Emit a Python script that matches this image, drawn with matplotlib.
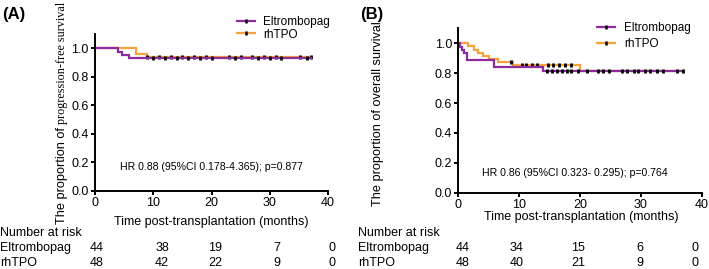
import matplotlib
matplotlib.use("Agg")
import matplotlib.pyplot as plt
from matplotlib.lines import Line2D
import numpy as np

plt.rcParams['font.family'] = ['Liberation Sans', 'DejaVu Sans']

W, H = 709, 269
PURPLE = '#8d2b9d'
ORANGE = '#f5a33a'
FS = 9

# ---- panel A: progression-free survival ----
a_elt_t = [0, 4.0, 4.7, 5.8]
a_elt_s = [1.0, 0.977, 0.955, 0.932]
a_elt_end = 37.0
a_elt_cens = [10, 12, 14, 16, 18, 20, 24, 28, 30, 32, 36.4]

a_rh_t = [0, 7.0, 9.0]
a_rh_s = [1.0, 0.958, 0.9375]
a_rh_end = 37.0
a_rh_cens = [9, 11, 13, 15, 17, 19, 23, 25, 27, 29, 31, 35.2, 37]

# ---- panel B: overall survival ----
b_elt_t = [0, 0.3, 0.6, 1.0, 1.5, 5.8, 13.9]
b_elt_s = [1.0, 0.977, 0.955, 0.932, 0.886, 0.841, 0.818]
b_elt_end = 37.0
b_elt_cens = [14.5, 15.4, 16.2, 17.0, 17.8, 18.6, 19.7, 21.1, 23.0, 23.8,
              24.7, 26.9, 27.7, 28.8, 29.6, 30.7, 31.5, 32.6, 33.7, 35.9, 37.0]

b_rh_t = [0, 1.6, 2.5, 3.3, 4.1, 5.0, 6.6, 9.0, 20.0]
b_rh_s = [1.0, 0.979, 0.958, 0.9375, 0.917, 0.896, 0.875, 0.854, 0.813]
b_rh_end = 37.0
b_rh_cens = [8.7, 10.4, 11.2, 12.1, 12.9, 14.8, 15.6, 16.6, 17.5, 18.6]

groups = ['Eltrombopag', 'rhTPO']
a_risk_elt = [44, 38, 19, 7, 0]
a_risk_rh = [48, 42, 22, 9, 0]
b_risk_elt = [44, 34, 15, 6, 0]
b_risk_rh = [48, 40, 21, 9, 0]


def fx(x):
    return x / W


def fy(y):
    return 1 - y / H


def surv_at(t_list, s_list, t):
    idx = np.searchsorted(t_list, t, side='right') - 1
    return s_list[idx]


def km(ax, t, s, end, cens, color):
    tt = list(t) + [end]
    ss = list(s) + [s[-1]]
    ax.step(tt, ss, where='post', color=color, lw=1.6, solid_joinstyle='miter')
    cy = [surv_at(t, s, c) for c in cens]
    ax.plot(cens, cy, ls='none', marker='|', ms=3.3, mew=2.0, color='black')


def style(ax):
    ax.set_xlim(0, 40)
    ax.set_ylim(0, 1.1)
    ax.set_xticks([0, 10, 20, 30, 40])
    ax.set_yticks([0, 0.2, 0.4, 0.6, 0.8, 1.0])
    ax.set_yticklabels(['%.1f' % v for v in [0, 0.2, 0.4, 0.6, 0.8, 1.0]])
    for sp in ['top', 'right']:
        ax.spines[sp].set_visible(False)
    for sp in ['left', 'bottom']:
        ax.spines[sp].set_linewidth(1.4)
    ax.tick_params(direction='out', length=3, width=1.4, labelsize=FS, pad=1.5)


fig = plt.figure(figsize=(W / 100, H / 100), dpi=100)

axA = fig.add_axes([fx(95), fy(190.7), fx(233), 156.6 / H])
km(axA, a_rh_t, a_rh_s, a_rh_end, a_rh_cens, ORANGE)
km(axA, a_elt_t, a_elt_s, a_elt_end, a_elt_cens, PURPLE)
style(axA)

axB = fig.add_axes([fx(458.3), fy(192.7), fx(243.4), 164.3 / H])
km(axB, b_rh_t, b_rh_s, b_rh_end, b_rh_cens, ORANGE)
km(axB, b_elt_t, b_elt_s, b_elt_end, b_elt_cens, PURPLE)
style(axB)

handles = [Line2D([], [], color=PURPLE, lw=1.6, marker='|', ms=3.3, mew=1.8, mec='black'),
           Line2D([], [], color=ORANGE, lw=1.6, marker='|', ms=3.3, mew=1.8, mec='black')]
fig.legend(handles, groups, loc='upper left', bbox_to_anchor=(fx(237), fy(16)),
           frameon=False, fontsize=8.5, handlelength=1.5, handletextpad=0.7,
           labelspacing=0.05, borderpad=0, borderaxespad=0, numpoints=1)
fig.legend(handles, groups, loc='upper left', bbox_to_anchor=(fx(597), fy(22)),
           frameon=False, fontsize=8.5, handlelength=1.5, handletextpad=0.8,
           labelspacing=0.35, borderpad=0, borderaxespad=0, numpoints=1)

# panel letters
fig.text(fx(2), fy(15), '(A)', fontsize=12, fontweight='bold', va='center', ha='left')
fig.text(fx(360), fy(15), '(B)', fontsize=12, fontweight='bold', va='center', ha='left')

# HR annotations
fig.text(fx(212), fy(167), 'HR 0.88 (95%CI 0.178-4.365); p=0.877', fontsize=7.6,
         ha='center', va='center')
fig.text(fx(575), fy(173), 'HR 0.86 (95%CI 0.323- 0.295); p=0.764', fontsize=7.6,
         ha='center', va='center')

# x labels
fig.text(fx(211), fy(222), 'Time post-transplantation (months)', fontsize=FS,
         ha='center', va='center')
fig.text(fx(581), fy(217), 'Time post-transplantation (months)', fontsize=FS,
         ha='center', va='center')

# y labels
fig.canvas.draw()
renderer = fig.canvas.get_renderer()
t1 = fig.text(fx(62), fy(224), 'The proportion of ', fontsize=9.2, rotation=90,
              ha='center', va='bottom')
ext = t1.get_window_extent(renderer)
fig.text(fx(62), ext.y1 / H, 'progression-free survival',
         fontsize=8.7, rotation=90, ha='center', va='bottom', family='Liberation Serif')
fig.text(fx(378), fy(114), 'The proportion of overall survival', fontsize=9.2,
         rotation=90, ha='center', va='center')

# number at risk tables
a_cols = [97, 162, 215, 277, 332]
b_cols = [463, 517, 578, 640, 695]
for x0, cols, r_elt, r_rh in [(0, a_cols, a_risk_elt, a_risk_rh),
                              (358, b_cols, b_risk_elt, b_risk_rh)]:
    fig.text(fx(x0), fy(233), 'Number at risk', fontsize=FS, ha='left', va='center')
    fig.text(fx(x0), fy(248), groups[0], fontsize=FS, ha='left', va='center')
    fig.text(fx(x0), fy(263), groups[1], fontsize=FS, ha='left', va='center')
    for c, v1, v2 in zip(cols, r_elt, r_rh):
        fig.text(fx(c), fy(248), str(v1), fontsize=FS, ha='center', va='center')
        fig.text(fx(c), fy(263), str(v2), fontsize=FS, ha='center', va='center')

fig.savefig('out.png', dpi=100)
